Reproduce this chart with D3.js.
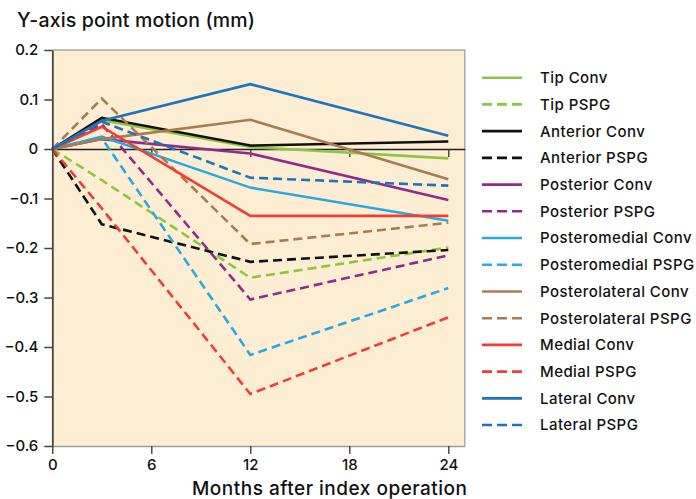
<!DOCTYPE html>
<html><head><meta charset="utf-8">
<script src="https://cdn.jsdelivr.net/npm/d3@7"></script>
<style>body{margin:0;background:#fff}svg{display:block}text{font-family:Inter,"Liberation Sans",Arial,sans-serif;font-weight:500}</style>
</head><body><svg id="c" width="696" height="499"></svg>
<script>
const months = [0, 3, 12, 24];
const xTicks = [0, 6, 12, 18, 24];
const yTicks = [0.2, 0.1, 0, -0.1, -0.2, -0.3, -0.4, -0.5, -0.6];
const seriesNames = ["Tip Conv","Tip PSPG","Anterior Conv","Anterior PSPG","Posterior Conv","Posterior PSPG","Posteromedial Conv","Posteromedial PSPG","Posterolateral Conv","Posterolateral PSPG","Medial Conv","Medial PSPG","Lateral Conv","Lateral PSPG"];
const tipConv            = [0, 0.058, 0.004, -0.019];
const tipPSPG            = [0, -0.063, -0.26, -0.199];
const anteriorConv       = [0, 0.063, 0.007, 0.015];
const anteriorPSPG       = [0, -0.152, -0.228, -0.204];
const posteriorConv      = [0, 0.02, -0.009, -0.103];
const posteriorPSPG      = [0, 0.05, -0.304, -0.215];
const posteromedialConv  = [0, 0.025, -0.078, -0.145];
const posteromedialPSPG  = [0, 0.022, -0.416, -0.281];
const posterolateralConv = [0, 0.02, 0.059, -0.061];
const posterolateralPSPG = [0, 0.102, -0.192, -0.149];
const medialConv         = [0, 0.045, -0.135, -0.135];
const medialPSPG         = [0, -0.12, -0.495, -0.34];
const lateralConv        = [0, 0.057, 0.131, 0.027];
const lateralPSPG        = [0, 0.055, -0.058, -0.074];
const seriesValues = [tipConv,tipPSPG,anteriorConv,anteriorPSPG,posteriorConv,posteriorPSPG,posteromedialConv,posteromedialPSPG,posterolateralConv,posterolateralPSPG,medialConv,medialPSPG,lateralConv,lateralPSPG];
const colors = ["#8dc63f","#8dc63f","#111111","#111111","#922a8c","#922a8c","#27aae1","#27aae1","#a97c50","#a97c50","#ee3e36","#ee3e36","#1c75bc","#1c75bc"];

const series = seriesNames.map((n,i)=>({name:n, values:seriesValues[i], color:colors[i], dashed:n.endsWith("PSPG")}));

const svg = d3.select("#c");
const x = d3.scaleLinear().domain([0,25]).range([52.3,464.8]);
const y = d3.scaleLinear().domain([-0.6,0.2]).range([446,50]);

svg.append("rect").attr("x",x(0)).attr("y",y(0.2)).attr("width",x(25)-x(0)).attr("height",y(-0.6)-y(0.2))
  .attr("fill","#fdeed3");
svg.append("path").attr("d",`M${x(0)},${y(0.2)}H${x(25)}V${y(-0.6)}`).attr("fill","none").attr("stroke","#a9a9a9").attr("stroke-width",1.5);

const zeroAxis = svg.append("g").attr("transform",`translate(0,${y(0)})`)
  .call(d3.axisBottom(x).tickValues([6,12,18,24]).tickSize(8).tickSizeOuter(0).tickFormat(""));
zeroAxis.select(".domain").attr("stroke","#222").attr("stroke-width",1.5);
zeroAxis.selectAll(".tick line").attr("stroke","#333").attr("stroke-width",1.3);

const line = d3.line().x((d,i)=>x(months[i])).y(d=>y(d));
svg.append("g").selectAll("path").data(series).join("path")
  .attr("d",d=>line(d.values)).attr("fill","none").attr("stroke",d=>d.color)
  .attr("stroke-width",2.6).attr("stroke-dasharray",d=>d.dashed?"9,5":null);

const ff = "Inter, Liberation Sans, Arial, sans-serif";
const fmt = d => d===0 ? "0" : d3.format(".1f")(d);
const yAxis = svg.append("g").attr("transform",`translate(${x(0)},0)`)
  .call(d3.axisLeft(y).tickValues(yTicks).tickSize(8).tickSizeOuter(0).tickPadding(6).tickFormat(fmt));
yAxis.select(".domain").attr("stroke","#444").attr("stroke-width",1.8);
yAxis.selectAll(".tick line").attr("stroke","#444").attr("stroke-width",1.5);
yAxis.selectAll(".tick text").attr("font-size",15).attr("fill","#111").style("font-family",ff).style("font-weight",500);

const xAxis = svg.append("g").attr("transform",`translate(0,${y(-0.6)})`)
  .call(d3.axisBottom(x).tickValues(xTicks).tickSize(8).tickSizeOuter(0).tickPadding(5).tickFormat(d3.format("d")));
xAxis.select(".domain").attr("stroke","#9a9a9a").attr("stroke-width",1.5);
xAxis.selectAll(".tick line").attr("stroke","#333").attr("stroke-width",1.3);
xAxis.selectAll(".tick text").attr("font-size",15).attr("fill","#111").style("font-family",ff).style("font-weight",500);

svg.append("text").attr("x",17).attr("y",27).attr("font-size",19.5).attr("fill","#111")
  .attr("textLength",238).attr("lengthAdjust","spacing").text("Y-axis point motion (mm)");
svg.append("text").attr("x",192).attr("y",495).attr("font-size",19).attr("fill","#111")
  .attr("textLength",275).attr("lengthAdjust","spacing").text("Months after index operation");

const lg = svg.append("g").selectAll("g").data(series).join("g")
  .attr("transform",(d,i)=>`translate(482,${77.7 + i*26.72})`);
lg.append("line").attr("x1",0).attr("x2",40).attr("stroke",d=>d.color).attr("stroke-width",2.6)
  .attr("stroke-dasharray",d=>d.dashed?"10,5":null);
lg.append("text").attr("x",58).attr("dy","0.36em").attr("font-size",15).attr("fill","#111")
  .style("letter-spacing","0.45px").text(d=>d.name);
</script></body></html>
